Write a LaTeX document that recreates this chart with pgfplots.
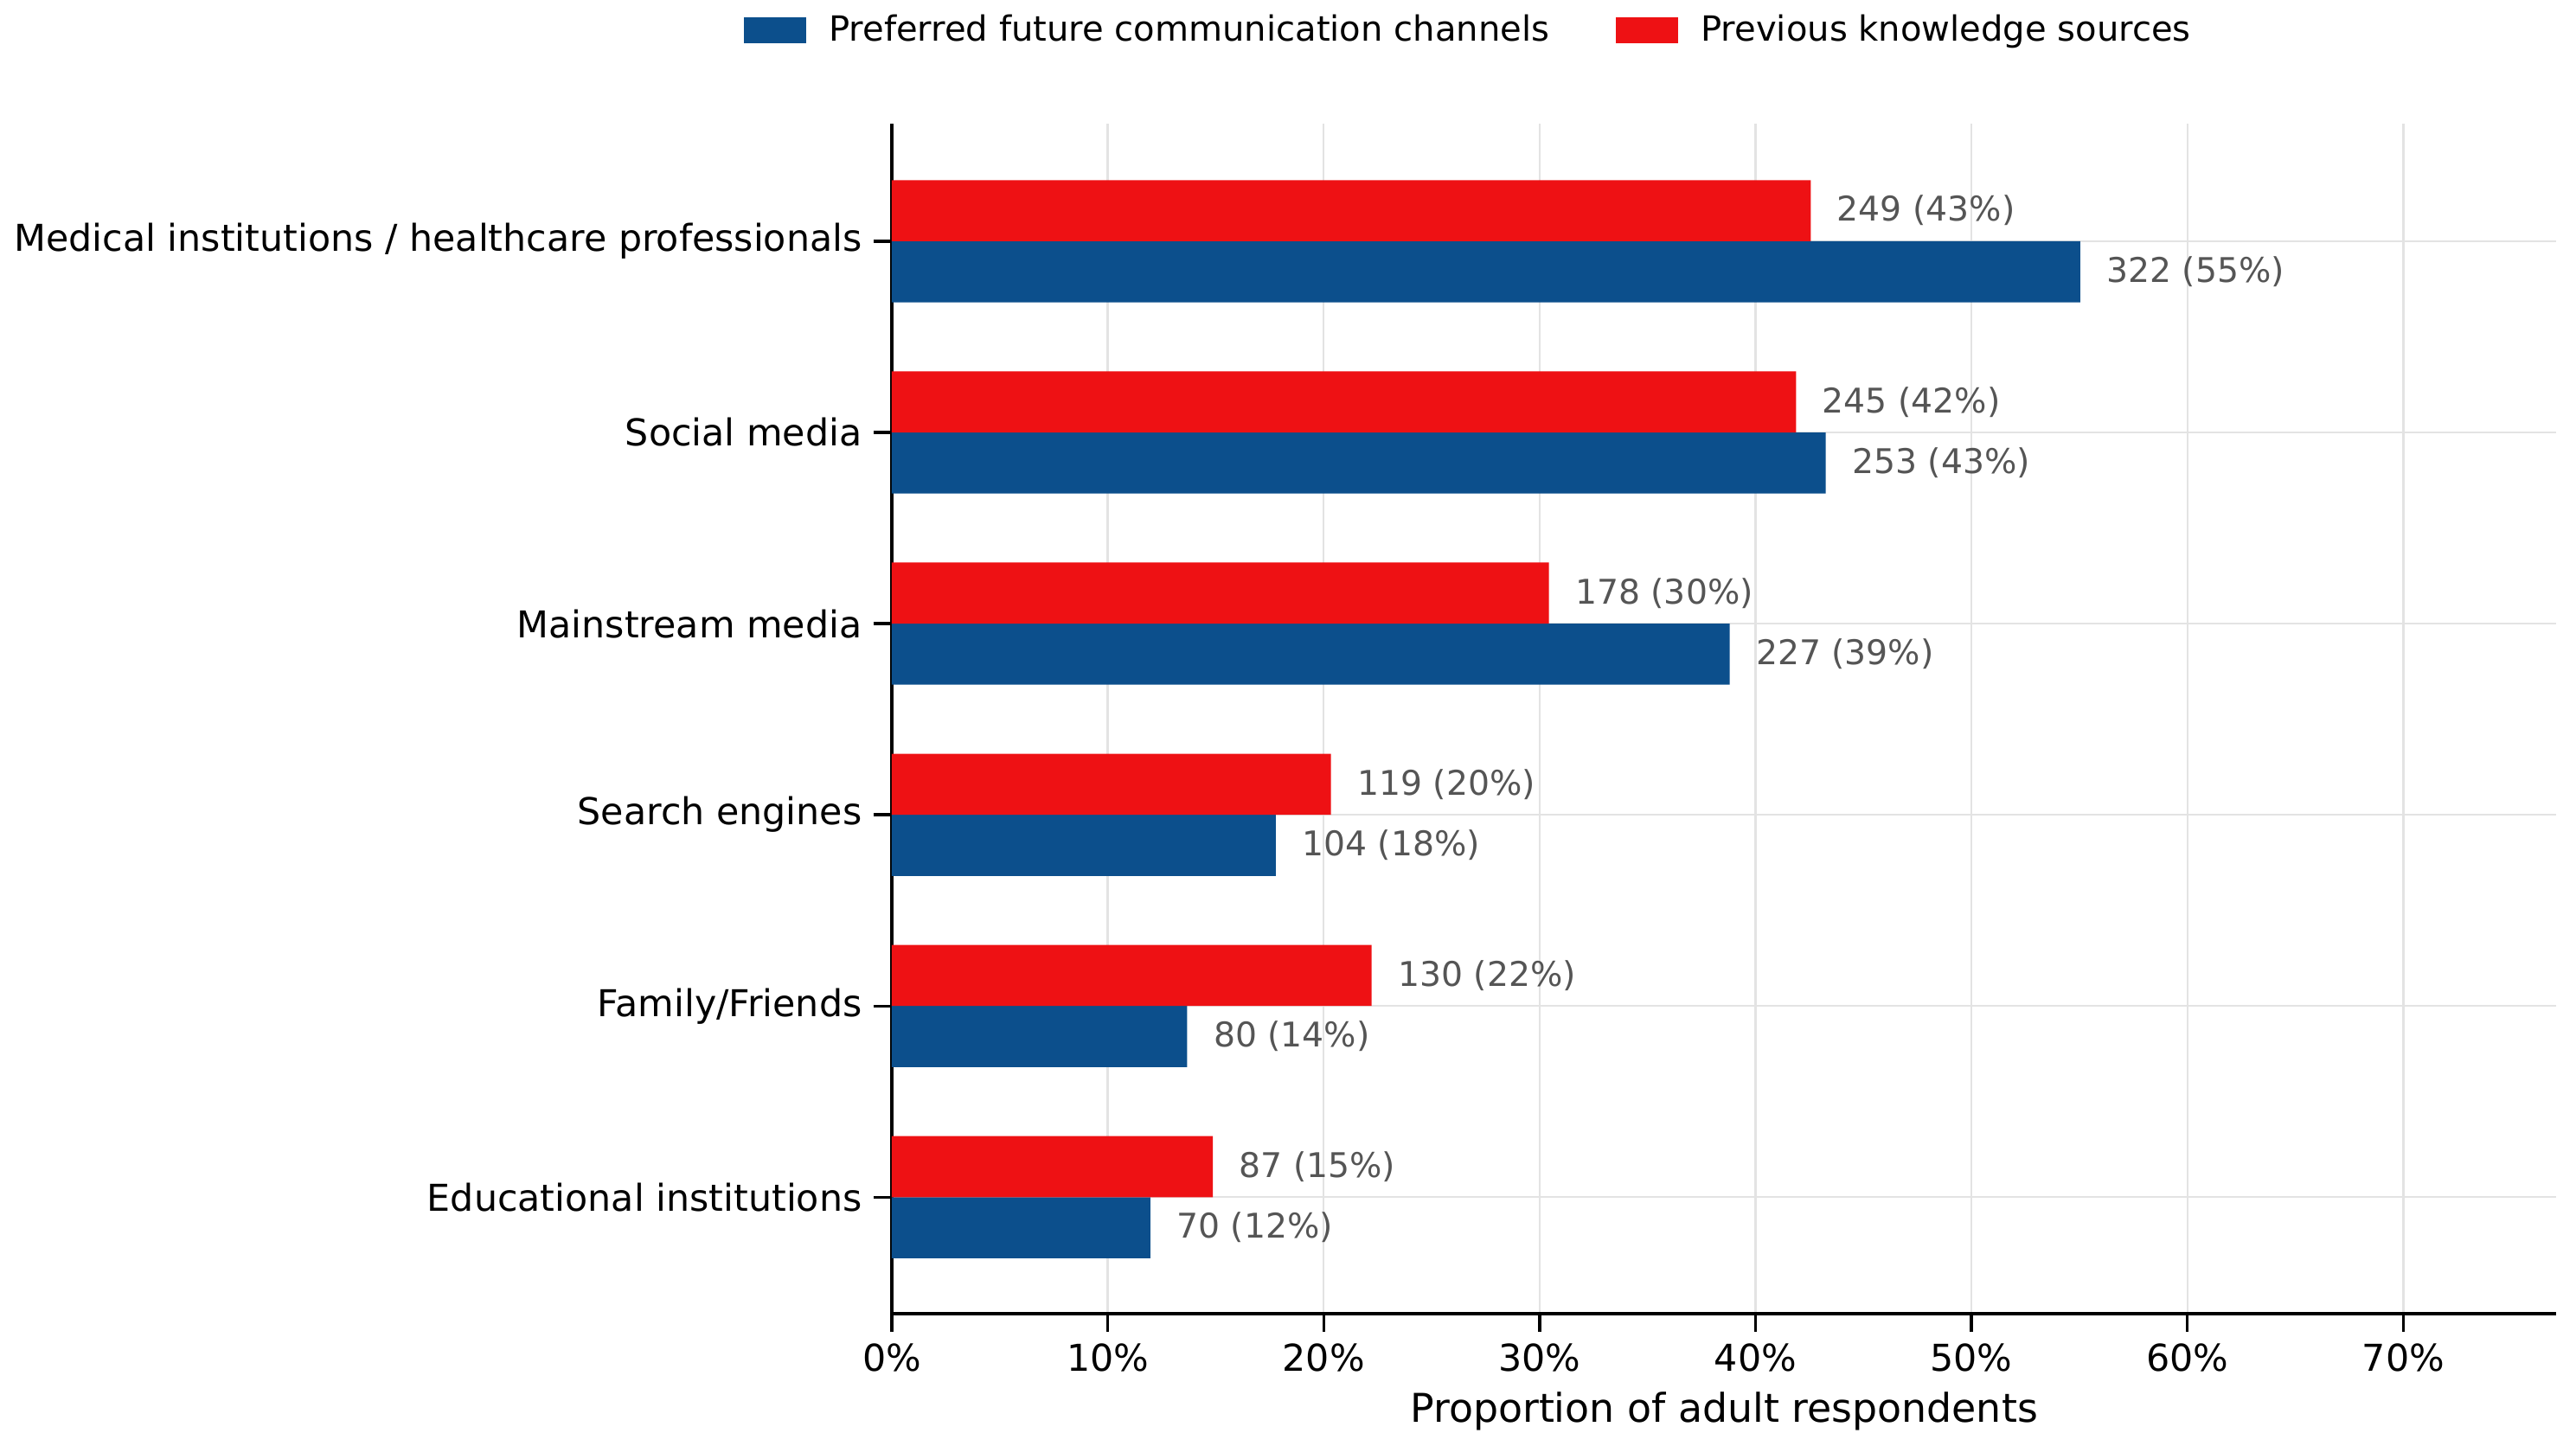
\documentclass[border=0pt]{standalone}
\usepackage{pgfplots}
\pgfplotsset{compat=1.18}
\usepackage{fontspec}
\setmainfont{DejaVu Sans}
\definecolor{cblue}{RGB}{12,79,140}
\definecolor{cred}{RGB}{238,17,20}
\definecolor{labgray}{RGB}{85,85,85}
\begin{document}
\begin{tikzpicture}[font=\fontsize{10.3}{12.4}\selectfont]
\begin{axis}[
  scale only axis, width=503.9pt, height=360.4pt,
  xbar, bar width=18.5pt,
  xmin=0, xmax=77.08, ymin=-0.61, ymax=5.615,
  axis x line*=bottom, axis y line*=left,
  x axis line style={-, line width=1.05pt},
  y axis line style={-, line width=0.9pt},
  xtick={0,10,...,70},
  xticklabel={\pgfmathprintnumber{\tick}\%},
  /pgf/number format/assume math mode=true,
  xticklabel style={font=\fontsize{11.2}{13.4}\selectfont},
  yticklabel style={font=\fontsize{11.2}{13.4}\selectfont},
  ytick={0,...,5},
  yticklabels={Educational institutions,Family/Friends,Search engines,Mainstream media,Social media,Medical institutions / healthcare professionals},
  tick align=outside, major tick length=5.5pt,
  tick style={black, line width=0.9pt},
  grid=major, major grid style={black!11, line width=0.6pt},
  xlabel={Proportion of adult respondents},
  every axis x label/.style={at={(axis description cs:0.5,0)}, anchor=center, yshift=-29.6pt, font=\fontsize{12}{14.4}\selectfont},
  legend style={draw=none, fill=none, legend columns=2, at={(0.3477,1.0786)}, anchor=center,
    font=\fontsize{10.5}{12.6}\selectfont,
    /tikz/every odd column/.append style={column sep=5pt},
    /tikz/every even column/.append style={column sep=18pt}},
  legend image code/.code={\fill[#1,draw=none] (0pt,-3.85pt) rectangle (18.9pt,3.85pt);},
  nodes near coords, point meta=explicit symbolic,
  every node near coord/.append style={anchor=west, inner sep=0pt, xshift=7.8pt, text=labgray},
]
\addplot[fill=cblue, draw=none, bar shift=-9.25pt] coordinates {
  (11.97,0) [70 (12\%)]
  (13.68,1) [80 (14\%)]
  (17.78,2) [104 (18\%)]
  (38.80,3) [227 (39\%)]
  (43.25,4) [253 (43\%)]
  (55.04,5) [322 (55\%)]
};
\addlegendentry{Preferred future communication channels}
\addplot[fill=cred, draw=none, bar shift=9.25pt] coordinates {
  (14.87,0) [87 (15\%)]
  (22.22,1) [130 (22\%)]
  (20.34,2) [119 (20\%)]
  (30.43,3) [178 (30\%)]
  (41.88,4) [245 (42\%)]
  (42.56,5) [249 (43\%)]
};
\addlegendentry{Previous knowledge sources}
\end{axis}
\pgfresetboundingbox
\path[use as bounding box] ([shift={(-270pt,-39.8pt)}]current axis.south west) rectangle ([shift={(6pt,37.45pt)}]current axis.north east);
\end{tikzpicture}
\end{document}
